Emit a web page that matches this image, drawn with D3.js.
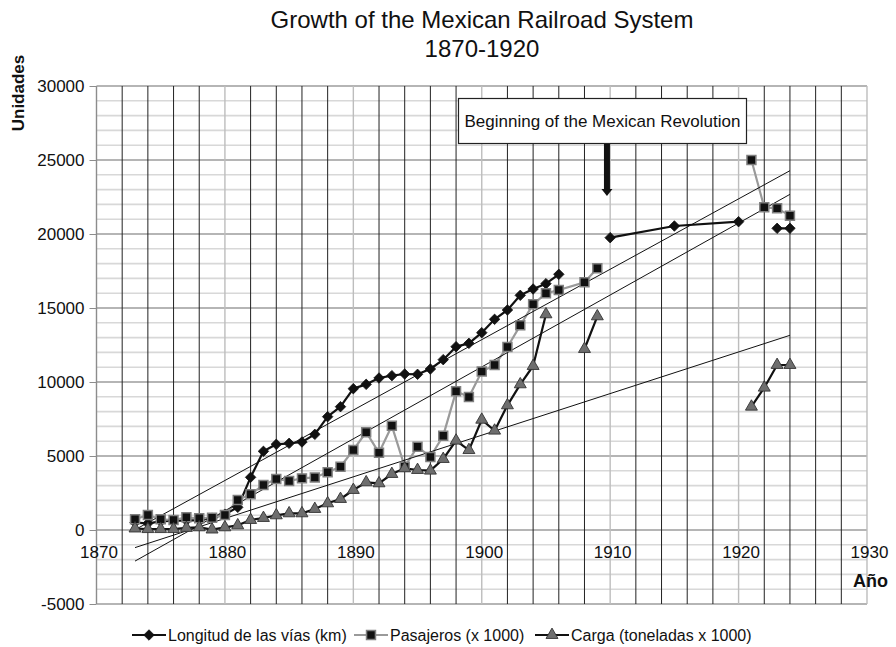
<!DOCTYPE html>
<html>
<head>
<meta charset="utf-8">
<script src="https://cdn.jsdelivr.net/npm/d3@7"></script>
<style>
  html, body { margin: 0; padding: 0; background: #fff; }
  svg { display: block; font-family: "Liberation Sans", Arial, Helvetica, sans-serif; }
</style>
</head>
<body>
<svg id="chart" width="896" height="647"></svg>
<script>
// Railroad series, one value per year (null breaks the connecting line)
const longitudYears = [1873,1874,1875,1876,1877,1878,1879,1880,1881,1882,1883,1884,1885,1886,1887,1888,1889,1890,1891,1892,1893,1894,1895,1896,1897,1898,1899,1900,1901,1902,1903,1904,1905,1906,1907,1910,1915,1920,1921,1923,1924];
const longitudKm     = [500,450,580,640,640,670,800,1070,1532,3559,5315,5788,5856,5946,6463,7658,8333,9550,9842,10270,10428,10540,10518,10878,11510,12387,12612,13333,14234,14865,15856,16284,16644,17275,null,19752,20540,20833,null,20383,20383];

const pasajerosYears = [1873,1874,1875,1876,1877,1878,1879,1880,1881,1882,1883,1884,1885,1886,1887,1888,1889,1890,1891,1892,1893,1894,1895,1896,1897,1898,1899,1900,1901,1902,1903,1904,1905,1906,1908,1909,1910,1921,1922,1923,1924];
const pasajerosMil   = [723,1014,723,676,856,788,833,1014,2027,2410,3040,3446,3311,3490,3550,3900,4279,5405,6610,5215,7040,4279,5630,4932,6373,9369,8986,10710,11149,12365,13829,15248,15991,16216,16734,17680,null,25000,21802,21734,21239];

const cargaYears = [1873,1874,1875,1876,1877,1878,1879,1880,1881,1882,1883,1884,1885,1886,1887,1888,1889,1890,1891,1892,1893,1894,1895,1896,1897,1898,1899,1900,1901,1902,1903,1904,1905,1906,1908,1909,1910,1921,1922,1923,1924];
const cargaMilTon  = [100,60,60,60,140,180,30,180,315,676,811,991,1126,1126,1419,1802,2095,2703,3221,3153,3784,4167,4054,4009,4797,6036,5400,7450,6712,8423,9842,11081,14572,null,12230,14437,null,8333,9617,11149,11149];

// Linear trend lines, value at each end year
const trendYears     = [1873, 1924];
const trendLongitud  = [17, 24277];
const trendPasajeros = [-2100, 22680];
const trendCarga     = [-1190, 13155];

// Axis ticks
const yTicks = [-5000, 0, 5000, 10000, 15000, 20000, 25000, 30000];
const xTicks = [1870, 1880, 1890, 1900, 1910, 1920, 1930];

const seriesNames = ["Longitud de las vías (km)", "Pasajeros (x 1000)", "Carga (toneladas x 1000)"];
const revolutionYear = 1909.75;
const revolutionLabel = "Beginning of the Mexican Revolution";

const svg = d3.select("#chart");
const plot = { left: 96.5, right: 867, top: 86, bottom: 604 };

const x = d3.scaleLinear().domain([1870, 1930]).range([plot.left, plot.right]);
const y = d3.scaleLinear().domain([-5000, 30000]).range([plot.bottom, plot.top]);

// Title
const title = svg.append("g").attr("fill", "#111").attr("text-anchor", "middle").style("font-size", "24px");
title.append("text").attr("x", 482).attr("y", 28).text("Growth of the Mexican Railroad System");
title.append("text").attr("x", 482).attr("y", 57).text("1870-1920");

// Grid: horizontal minor (1000) and major (5000)
const grid = svg.append("g");
grid.selectAll("line.hmin").data(d3.range(-5000, 30001, 1000).filter(v => v % 5000 !== 0))
  .join("line").attr("class", "hmin")
  .attr("x1", plot.left).attr("x2", plot.right)
  .attr("y1", d => y(d)).attr("y2", d => y(d))
  .attr("stroke", "#d8d8d8").attr("stroke-width", 1.6);
grid.selectAll("line.hmaj").data(yTicks)
  .join("line").attr("class", "hmaj")
  .attr("x1", plot.left).attr("x2", plot.right)
  .attr("y1", d => y(d)).attr("y2", d => y(d))
  .attr("stroke", "#9c9c9c").attr("stroke-width", 1.3);

// Vertical minor (every 2 years, dark) and major (every 10 years, light)
grid.selectAll("line.vmin").data(d3.range(1872, 1930, 2).filter(v => v % 10 !== 0))
  .join("line").attr("class", "vmin")
  .attr("x1", d => x(d)).attr("x2", d => x(d))
  .attr("y1", plot.top).attr("y2", plot.bottom)
  .attr("stroke", "#222").attr("stroke-width", 1);
grid.selectAll("line.vmaj").data(xTicks)
  .join("line").attr("class", "vmaj")
  .attr("x1", d => x(d)).attr("x2", d => x(d))
  .attr("y1", plot.top).attr("y2", plot.bottom)
  .attr("stroke", d => d === 1870 ? "#8c8c8c" : "#bdbdbd").attr("stroke-width", 1.4);

// Y axis ticks and labels (plain hyphen for negatives)
const yAxis = d3.axisLeft(y).tickValues(yTicks).tickSize(7).tickFormat(d => String(d));
const yg = svg.append("g").attr("transform", `translate(${plot.left},0)`).call(yAxis);
yg.select(".domain").remove();
yg.selectAll(".tick line").attr("stroke", "#8c8c8c");
yg.selectAll(".tick text").attr("x", -12).attr("dy", "0.35em")
  .style("font-size", "17px").attr("fill", "#111").style("font-family", "inherit");

// X tick labels sit under the zero line
const xAxis = d3.axisBottom(x).tickValues(xTicks).tickSize(0).tickFormat(d => String(d));
const xg = svg.append("g").attr("transform", `translate(2,${y(0)})`).call(xAxis);
xg.select(".domain").remove();
xg.selectAll(".tick text").attr("y", 16).attr("dy", "0.71em")
  .style("font-size", "17px").attr("fill", "#111").style("font-family", "inherit");

// Axis titles
svg.append("text").attr("transform", "translate(24,93) rotate(-90)")
  .attr("text-anchor", "middle").style("font-size", "17px").style("font-weight", "bold")
  .attr("fill", "#111").text("Unidades");
svg.append("text").attr("x", 853).attr("y", 587)
  .style("font-size", "18px").style("font-weight", "bold").attr("fill", "#111").text("Año");

// Series
function pts(years, vals) { return years.map((yr, i) => ({ yr, v: vals[i] })); }
const line = d3.line().defined(d => d.v !== null).x(d => x(d.yr)).y(d => y(d.v));

const series = [
  { name: seriesNames[0], data: pts(longitudYears, longitudKm), stroke: "#111", marker: "diamond" },
  { name: seriesNames[1], data: pts(pasajerosYears, pasajerosMil), stroke: "#9a9a9a", marker: "square" },
  { name: seriesNames[2], data: pts(cargaYears, cargaMilTon), stroke: "#111", marker: "triangle" }
];

const sym = {
  diamond: d3.symbol().type(d3.symbolDiamond2).size(70),
  square: d3.symbol().type(d3.symbolSquare).size(80),
  triangle: d3.symbol().type(d3.symbolTriangle).size(62)
};
const markerStyle = {
  diamond: { fill: "#111", stroke: "#111", sw: 0.8 },
  square: { fill: "#111", stroke: "#808080", sw: 1.5 },
  triangle: { fill: "#6e6e6e", stroke: "#333", sw: 0.9 }
};

const lines = svg.append("g");
series.forEach(s => {
  lines.append("path").datum(s.data).attr("d", line)
    .attr("fill", "none").attr("stroke", s.stroke).attr("stroke-width", 2.2)
    .attr("stroke-linejoin", "round");
});

// Trend lines
const trends = svg.append("g");
[trendLongitud, trendPasajeros, trendCarga].forEach(t => {
  trends.append("line")
    .attr("x1", x(trendYears[0])).attr("y1", y(t[0]))
    .attr("x2", x(trendYears[1])).attr("y2", y(t[1]))
    .attr("stroke", "#111").attr("stroke-width", 1);
});

const markers = svg.append("g");
series.forEach(s => {
  const st = markerStyle[s.marker];
  markers.append("g").selectAll("path").data(s.data.filter(d => d.v !== null)).join("path")
    .attr("transform", d => `translate(${x(d.yr)},${y(d.v)})`)
    .attr("d", sym[s.marker])
    .attr("fill", st.fill).attr("stroke", st.stroke).attr("stroke-width", st.sw);
});

// Annotation
const ax = x(revolutionYear);
const ann = svg.append("g");
ann.append("rect").attr("x", 458.5).attr("y", 98.5).attr("width", 288).attr("height", 45)
  .attr("fill", "#fff").attr("stroke", "#222").attr("stroke-width", 1.2);
ann.append("text").attr("x", 602.5).attr("y", 127).attr("text-anchor", "middle")
  .style("font-size", "17px").attr("fill", "#111").text(revolutionLabel);
ann.append("rect").attr("x", ax - 3).attr("y", 144).attr("width", 6).attr("height", 46).attr("fill", "#111");
ann.append("path").attr("d", `M${ax - 5.5},189 L${ax + 5.5},189 L${ax},196 Z`).attr("fill", "#111");

// Legend
const legend = svg.append("g").attr("transform", "translate(0,635)");
const legendItems = [
  { x: 132, s: series[0] },
  { x: 354, s: series[1] },
  { x: 535, s: series[2] }
];
legendItems.forEach(it => {
  const g = legend.append("g").attr("transform", `translate(${it.x},0)`);
  g.append("line").attr("x1", 0).attr("x2", 34).attr("y1", 0).attr("y2", 0)
    .attr("stroke", it.s.stroke).attr("stroke-width", 2);
  const st = markerStyle[it.s.marker];
  g.append("path").attr("transform", "translate(17,0)").attr("d", sym[it.s.marker])
    .attr("fill", st.fill).attr("stroke", st.stroke).attr("stroke-width", st.sw);
  g.append("text").attr("x", 36).attr("dy", "0.35em").style("font-size", "16px")
    .attr("fill", "#111").text(it.s.name);
});
</script>
</body>
</html>
